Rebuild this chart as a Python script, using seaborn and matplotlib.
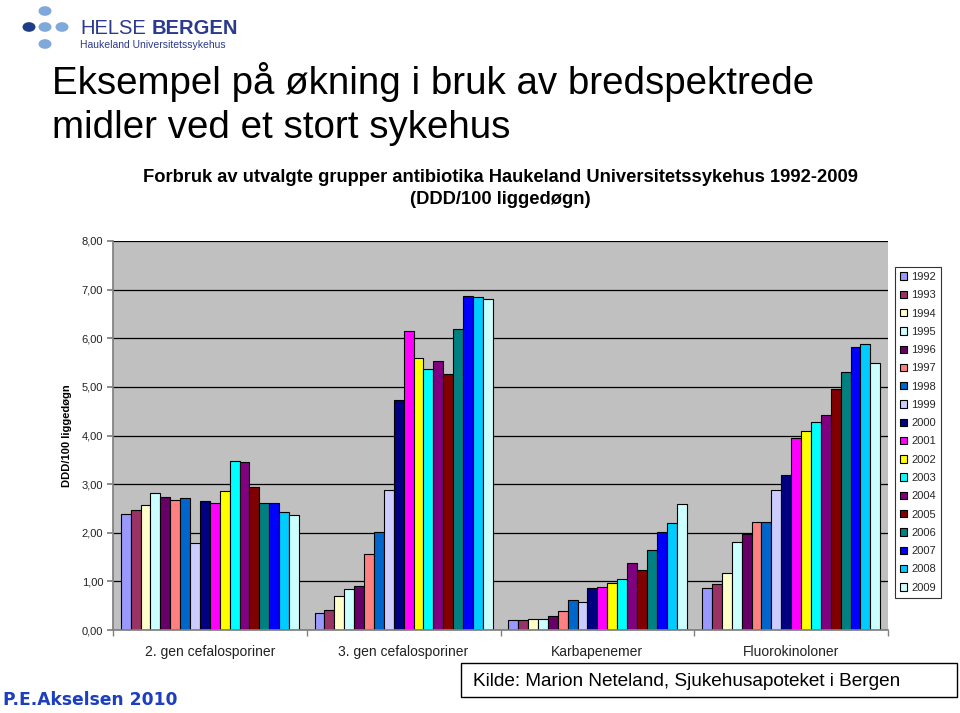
import matplotlib
matplotlib.use("Agg")
import matplotlib.pyplot as plt
import seaborn as sns
import pandas as pd
import numpy as np
from matplotlib.patches import Rectangle, Circle
from matplotlib.ticker import FuncFormatter, FixedLocator

categories = ["2. gen cefalosporiner", "3. gen cefalosporiner", "Karbapenemer", "Fluorokinoloner"]
years = [str(y) for y in range(1992, 2010)]

cefalo2 = [2.39, 2.46, 2.58, 2.81, 2.74, 2.67, 2.71, 1.78, 2.65, 2.61, 2.85, 3.47, 3.45, 2.94, 2.61, 2.61, 2.43, 2.36]
cefalo3 = [0.34, 0.42, 0.69, 0.84, 0.91, 1.56, 2.02, 2.87, 4.73, 6.15, 5.59, 5.36, 5.54, 5.27, 6.19, 6.87, 6.85, 6.80]
karba = [0.21, 0.21, 0.23, 0.23, 0.29, 0.39, 0.61, 0.57, 0.86, 0.88, 0.96, 1.04, 1.38, 1.24, 1.65, 2.01, 2.21, 2.59]
fluoro = [0.86, 0.95, 1.18, 1.80, 1.98, 2.23, 2.23, 2.87, 3.19, 3.94, 4.10, 4.28, 4.42, 4.95, 5.30, 5.81, 5.88, 5.50]

colors = ["#9999FF", "#993366", "#FFFFCC", "#CCFFFF", "#660066", "#FF8080",
          "#0066CC", "#CCCCFF", "#000080", "#FF00FF", "#FFFF00", "#00FFFF",
          "#800080", "#800000", "#008080", "#0000FF", "#00CCFF", "#CCFFFF"]

rows = []
for cat, vals in zip(categories, [cefalo2, cefalo3, karba, fluoro]):
    for yr, v in zip(years, vals):
        rows.append({"Gruppe": cat, "År": yr, "Verdi": v})
df = pd.DataFrame(rows)

sns.set_theme(style="white")
plt.rcParams["font.family"] = ["Liberation Sans", "DejaVu Sans"]

W, H = 960, 713
fig = plt.figure(figsize=(W / 100, H / 100), dpi=100)
fig.patch.set_facecolor("white")

def fx(x):
    return x / W

def fy(y):
    return 1 - y / H

ax = fig.add_axes([fx(113), fy(630), fx(888) - fx(113), fy(241) - fy(630)])
sns.barplot(data=df, x="Gruppe", y="Verdi", hue="År", order=categories,
            hue_order=years, palette=colors, width=0.92, ax=ax,
            edgecolor="black", linewidth=0.8, saturation=1, legend=True)

ax.set_facecolor("#C0C0C0")
ax.set_ylim(0, 8)
ax.set_xlim(-0.5, 3.5)
ax.set_yticks(np.arange(0, 9, 1))
ax.yaxis.set_major_formatter(FuncFormatter(lambda v, p: f"{v:.2f}".replace(".", ",")))
ax.grid(axis="y", color="black", linewidth=0.9)
ax.set_axisbelow(True)
ax.set_xlabel("")
ax.set_ylabel("")
for s in ["top", "right"]:
    ax.spines[s].set_visible(False)
ax.spines["left"].set_color("#808080")
ax.spines["bottom"].set_color("#808080")
ax.tick_params(axis="y", which="major", direction="out", length=4, color="#808080",
               labelsize=8, labelcolor="#222222", left=True, pad=3)
ax.tick_params(axis="x", which="major", length=0, labelsize=10, labelcolor="#222222", pad=11)
ax.xaxis.set_minor_locator(FixedLocator([-0.5, 0.5, 1.5, 2.5, 3.5]))
ax.tick_params(axis="x", which="minor", direction="out", length=4, color="#808080", bottom=True)

handles, labels = ax.get_legend_handles_labels()
ax.get_legend().remove()
leg = fig.legend(handles, labels, loc="upper left",
                 bbox_to_anchor=(fx(895), fy(267)), frameon=True, fancybox=False,
                 fontsize=8, handlelength=0.65, handleheight=0.65, handletextpad=0.35,
                 labelspacing=0.745, borderpad=0.45, borderaxespad=0)
leg.get_frame().set_edgecolor("black")
leg.get_frame().set_linewidth(0.8)

# y-axis label
fig.text(fx(67), fy(436), "DDD/100 liggedøgn", rotation=90, ha="center", va="center",
         fontsize=8, fontweight="bold", color="black")

# chart title
fig.text(fx(500), fy(178), "Forbruk av utvalgte grupper antibiotika Haukeland Universitetssykehus 1992-2009",
         ha="center", va="center", fontsize=13.2, fontweight="bold", color="black")
fig.text(fx(500), fy(199), "(DDD/100 liggedøgn)", ha="center", va="center",
         fontsize=13.2, fontweight="bold", color="black")

# slide title
fig.text(fx(52), fy(82), "Eksempel på økning i bruk av bredspektrede", ha="left", va="center",
         fontsize=27.7, color="black")
fig.text(fx(52), fy(128), "midler ved et stort sykehus", ha="left", va="center",
         fontsize=27.7, color="black")

# logo
for (cx, cy, c) in [(45, 11, "#7FA9DA"), (29, 27, "#1F3C88"), (45, 27, "#7FA9DA"),
                    (62, 27, "#7FA9DA"), (45, 44, "#7FA9DA")]:
    fig.patches.append(Circle((fx(cx), fy(cy)), 6.5 / W, transform=fig.transFigure,
                              facecolor=c, edgecolor="none"))
fig.text(fx(80), fy(28), "HELSE", ha="left", va="center", fontsize=14.5, color="#2B3A8C")
fig.text(fx(152), fy(28), "BERGEN", ha="left", va="center", fontsize=14.5,
         fontweight="bold", color="#2B3A8C")
fig.text(fx(80), fy(45), "Haukeland Universitetssykehus", ha="left", va="center",
         fontsize=7.5, color="#2B3A8C")

# author
fig.text(fx(3), fy(700), "P.E.Akselsen 2010", ha="left", va="center", fontsize=12.3,
         fontweight="bold", color="#1C3FC0", family=["DejaVu Sans"])

# source box
fig.patches.append(Rectangle((fx(461), fy(697)), fx(957) - fx(461), fy(663) - fy(697),
                             transform=fig.transFigure, facecolor="white",
                             edgecolor="black", linewidth=1.0))
fig.text(fx(473), fy(681), "Kilde: Marion Neteland, Sjukehusapoteket i Bergen",
         ha="left", va="center", fontsize=13.7, color="black")

fig.savefig("out.png", dpi=100, facecolor="white")
